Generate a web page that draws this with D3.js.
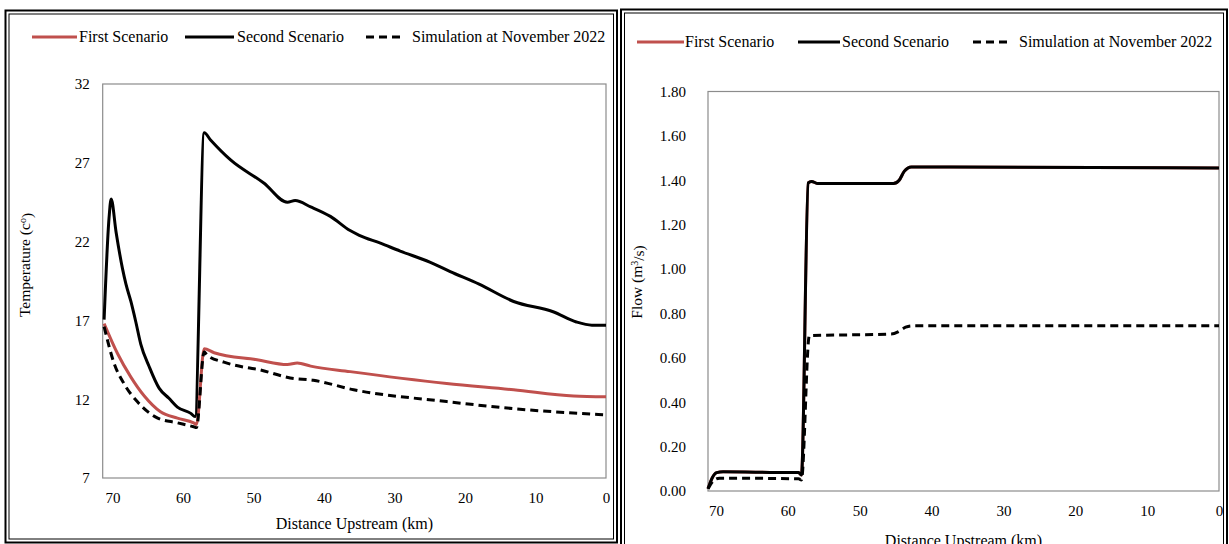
<!DOCTYPE html>
<html>
<head>
<meta charset="utf-8">
<script src="https://cdn.jsdelivr.net/npm/d3@7"></script>
<style>
  html, body { margin: 0; padding: 0; background: #fff; }
  svg { display: block; }
  text { font-family: "Liberation Serif", "Times New Roman", serif; fill: #000; }
</style>
</head>
<body>
<svg id="chart" width="1229" height="544"></svg>
<script>
// ---- Temperature profile (left panel) ----
const tempDistFirst  = [71.2, 69.3, 67.4, 65.5, 63.2, 60.8, 58.5, 58.1, 57.0, 55.6, 49.5, 45.2, 43.8, 41.9, 36.3, 22.6, 13.1, 4.6, 0.0];
const tempFirst      = [16.8, 14.9, 13.4, 12.2, 11.2, 10.8, 10.5, 10.4, 15.2, 14.95, 14.5, 14.2, 14.3, 14.1, 13.75, 13.0, 12.6, 12.2, 12.15];

const tempDistSecond = [71.2, 70.5, 70.2, 69.5, 68.6, 68.1, 67.4, 66.7, 66.0, 64.8, 63.4, 62.0, 60.8, 58.9, 58.3, 57.0, 56.1, 53.3, 48.5, 45.2, 44.1, 41.9, 39.1, 36.3, 35.0, 32.0, 29.2, 25.0, 22.1, 18.0, 13.1, 7.5, 4.2, 2.0, 0.0];
const tempSecond     = [17.05, 23.5, 24.7, 22.6, 20.3, 19.3, 18.2, 16.9, 15.5, 14.06, 12.7, 12.06, 11.5, 11.1, 10.9, 28.9, 28.45, 27.2, 25.7, 24.5, 24.6, 24.2, 23.6, 22.7, 22.4, 21.9, 21.4, 20.7, 20.1, 19.3, 18.2, 17.55, 16.9, 16.7, 16.7];

const tempDistSim    = [71.2, 69.8, 68.4, 66.5, 63.6, 60.8, 58.5, 58.1, 57.0, 56.6, 54.2, 50.9, 49.5, 44.8, 41.5, 35.8, 22.6, 13.1, 0.0];
const tempSim        = [16.6, 14.3, 13.0, 11.85, 10.8, 10.5, 10.25, 10.2, 15.0, 14.8, 14.35, 14.0, 13.9, 13.35, 13.2, 12.6, 11.85, 11.4, 11.0];

// ---- Flow profile (right panel) ----
const flowDistSecond = [71.1, 70.5, 69.9, 69.0, 60.0, 58.5, 58.1, 57.15, 56.7, 55.8, 45.3, 44.5, 43.8, 42.8, 37.5, 0.0];
const flowSecond     = [0.01, 0.06, 0.083, 0.087, 0.083, 0.083, 0.072, 1.388, 1.395, 1.385, 1.385, 1.40, 1.44, 1.46, 1.46, 1.455];
const flowDistFirst  = flowDistSecond;
const flowFirst      = flowSecond;
const flowDistSim    = [71.1, 70.2, 69.5, 58.5, 58.1, 57.0, 45.6, 44.5, 43.6, 42.8, 0.0];
const flowSim        = [0.01, 0.05, 0.058, 0.055, 0.05, 0.70, 0.707, 0.72, 0.738, 0.744, 0.744];

// ---- Tick labels ----
const distTicks = [70, 60, 50, 40, 30, 20, 10, 0];
const tempTicks = [7, 12, 17, 22, 27, 32];
const flowTicks = [0, 0.2, 0.4, 0.6, 0.8, 1.0, 1.2, 1.4, 1.6, 1.8];

const seriesNames = ["First Scenario", "Second Scenario", "Simulation at November 2022"];
const RED = "#c0504d";

const svg = d3.select("#chart");

function pairs(xs, ys) { return xs.map((x, i) => ({ d: x, v: ys[i] })); }

function styleSeries(sel, k) {
  sel.attr("fill", "none")
     .attr("stroke-linejoin", "round")
     .attr("stroke-linecap", "butt")
     .attr("stroke-width", 3);
  if (k === 0) sel.attr("stroke", RED);
  else sel.attr("stroke", "#000");
  if (k === 2) sel.attr("stroke-dasharray", "8,5");
}

// Excel-like double frame around each panel
function frame(x0, y0, x1, y1) {
  svg.append("rect").attr("x", x0).attr("y", y0).attr("width", x1 - x0).attr("height", y1 - y0)
    .attr("fill", "none").attr("stroke", "#000").attr("stroke-width", 2);
  svg.append("rect").attr("x", x0 + 3.5).attr("y", y0 + 3.5).attr("width", x1 - x0 - 7).attr("height", y1 - y0 - 7)
    .attr("fill", "none").attr("stroke", "#000").attr("stroke-width", 1);
}

function legend(items, y) {
  const g = svg.append("g");
  items.forEach((it, k) => {
    const ln = g.append("line").attr("x1", it.x0).attr("x2", it.x1).attr("y1", y).attr("y2", y);
    styleSeries(ln, k);
    g.append("text").attr("x", it.tx).attr("y", y).attr("dy", "0.33em")
      .style("font-size", "16px").text(seriesNames[k]);
  });
}

function panel(cfg) {
  const x = d3.scaleLinear().domain([cfg.dMax, 0]).range([cfg.left, cfg.right]);
  const y = d3.scaleLinear().domain(cfg.yDomain).range([cfg.bottom, cfg.top]);

  const g = svg.append("g");
  // plot area border
  g.append("rect").attr("x", cfg.left).attr("y", cfg.top)
    .attr("width", cfg.right - cfg.left).attr("height", cfg.bottom - cfg.top)
    .attr("fill", "none").attr("stroke", "#8c8c8c").attr("stroke-width", 1.2);

  const xAxis = g.append("g").attr("transform", `translate(0,${cfg.bottom})`)
    .call(d3.axisBottom(x).tickValues(distTicks).tickSize(0).tickPadding(14).tickFormat(d3.format("d")));
  const yAxis = g.append("g").attr("transform", `translate(${cfg.left},0)`)
    .call(d3.axisLeft(y).tickValues(cfg.yTicks).tickSize(0).tickPadding(cfg.yPad).tickFormat(cfg.yFormat));
  [xAxis, yAxis].forEach(a => {
    a.select(".domain").remove();
    a.selectAll("text").style("font-size", "15px").style("font-family", "Liberation Serif, serif").attr("fill", "#000");
  });

  const line = d3.line().x(p => x(p.d)).y(p => y(p.v)).curve(d3.curveMonotoneX);
  cfg.series.forEach((s, k) => {
    const path = g.append("path").datum(pairs(s[0], s[1])).attr("d", line);
    styleSeries(path, k);
  });

  // axis titles
  g.append("text").attr("x", (cfg.left + cfg.right) / 2).attr("y", cfg.xTitleY)
    .attr("text-anchor", "middle").style("font-size", "16px").text("Distance Upstream (km)");
  const yt = g.append("text")
    .attr("transform", `translate(${cfg.yTitleX},${cfg.yTitleY}) rotate(-90)`)
    .attr("text-anchor", "middle").style("font-size", "15.5px");
  yt.append("tspan").text(cfg.yTitle[0]);
  yt.append("tspan").attr("dy", "-0.45em").style("font-size", "10px").text(cfg.yTitle[1]);
  yt.append("tspan").attr("dy", "0.45em").text(cfg.yTitle[2]);
}

svg.append("rect").attr("width", 1229).attr("height", 544).attr("fill", "#fff");
frame(5.5, 10.5, 617, 542.5);
frame(621, 9.5, 1227, 560);

legend([
  { x0: 32, x1: 77, tx: 79 },
  { x0: 185, x1: 234, tx: 237 },
  { x0: 366, x1: 405, tx: 412 }
], 37);
legend([
  { x0: 637, x1: 684, tx: 685 },
  { x0: 798, x1: 840, tx: 842 },
  { x0: 973, x1: 1010, tx: 1019 }
], 42);

panel({
  left: 102.7, right: 606, top: 84, bottom: 478, dMax: 71.4,
  yDomain: [7, 32], yTicks: tempTicks, yFormat: d3.format("d"), yPad: 13,
  series: [[tempDistFirst, tempFirst], [tempDistSecond, tempSecond], [tempDistSim, tempSim]],
  xTitleY: 529, yTitleX: 30, yTitleY: 265, yTitle: ["Temperature (c", "o", ")"]
});

panel({
  left: 708, right: 1219, top: 91.5, bottom: 491, dMax: 71.1,
  yDomain: [0, 1.8], yTicks: flowTicks, yFormat: d3.format(".2f"), yPad: 22,
  series: [[flowDistFirst, flowFirst], [flowDistSecond, flowSecond], [flowDistSim, flowSim]],
  xTitleY: 546, yTitleX: 642, yTitleY: 282, yTitle: ["Flow  (m", "3", "/s)"]
});
</script>
</body>
</html>
